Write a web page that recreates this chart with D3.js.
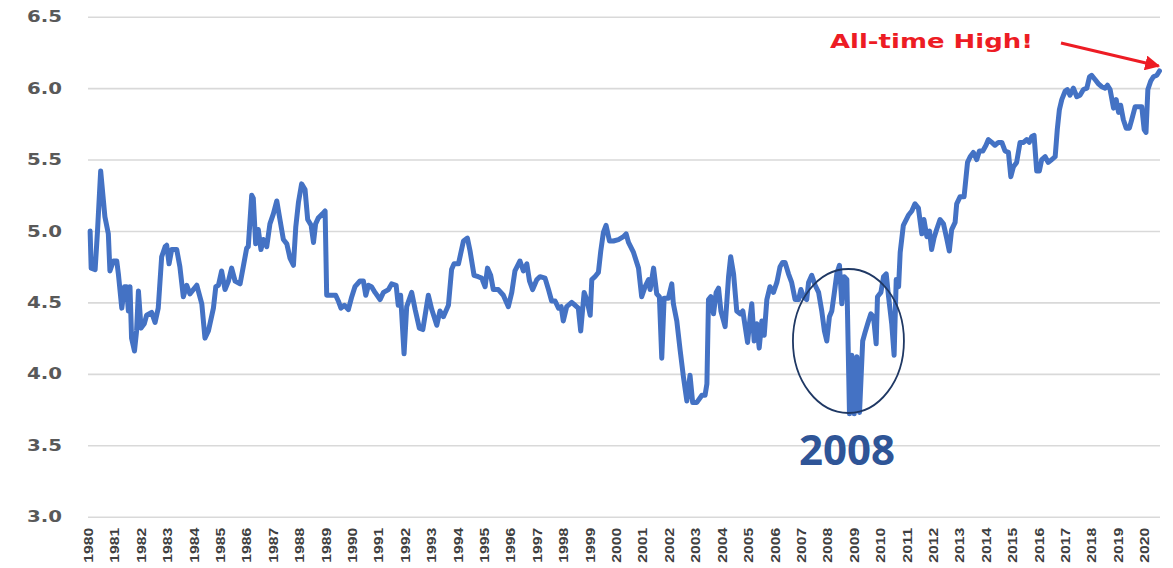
<!DOCTYPE html>
<html>
<head>
<meta charset="utf-8">
<script src="https://d3js.org/d3.v7.min.js"></script>
<style>
  html, body { margin: 0; padding: 0; background: #ffffff; }
  svg { display: block; }
</style>
</head>
<body>
<svg id="chart" width="1173" height="568"></svg>
<script>
// Offsets are years since Jan 1980 (decimal).
const off1980s = [0.08,0.12,0.27,0.36,0.48,0.64,0.77,0.83,0.96,1.09,1.15,1.28,1.38,1.46,1.53,1.59,1.65,1.76,1.84,1.91,2.01,2.13,2.22,2.41,2.54,2.66,2.79,2.92,2.98,3.07,3.17,3.36,3.48,3.61,3.74,3.86,4.12,4.31,4.43,4.56,4.75,4.84,4.94,5.06,5.19,5.32,5.44,5.57,5.76,5.88,6.01,6.07,6.20,6.26,6.35,6.45,6.55,6.64,6.77,6.89,7.02,7.15,7.27,7.40,7.53,7.65,7.78,7.87,7.97,8.09,8.22,8.32,8.45,8.54,8.62,8.72,8.88,8.98,9.04,9.23,9.38,9.48,9.58,9.71,9.86,9.99];
const val1980s = [5.00,4.74,4.73,5.00,5.42,5.10,4.98,4.72,4.79,4.79,4.70,4.46,4.61,4.61,4.44,4.61,4.25,4.16,4.30,4.58,4.32,4.35,4.41,4.43,4.36,4.46,4.82,4.89,4.90,4.77,4.87,4.87,4.75,4.54,4.62,4.56,4.62,4.49,4.25,4.30,4.46,4.61,4.62,4.72,4.59,4.65,4.74,4.65,4.63,4.75,4.88,4.89,5.25,5.23,4.91,5.01,4.87,4.94,4.89,5.05,5.12,5.21,5.08,4.94,4.91,4.81,4.76,5.03,5.20,5.33,5.29,5.08,5.04,4.92,5.05,5.09,5.12,5.14,4.55,4.55,4.55,4.51,4.46,4.48,4.45,4.54];

const off1990s = [10.11,10.30,10.43,10.52,10.62,10.74,10.87,11.06,11.19,11.38,11.50,11.67,11.75,11.84,11.97,12.07,12.26,12.39,12.55,12.68,12.89,13.02,13.21,13.33,13.46,13.65,13.77,13.86,14.03,14.22,14.37,14.47,14.62,14.78,14.91,15.04,15.13,15.25,15.35,15.54,15.73,15.92,16.05,16.17,16.36,16.49,16.62,16.72,16.84,17.00,17.12,17.31,17.44,17.56,17.69,17.82,17.92,18.00,18.13,18.32,18.45,18.57,18.66,18.79,18.89,19.02,19.08,19.20,19.33,19.42,19.52,19.62,19.75,19.90];
const val1990s = [4.61,4.65,4.65,4.55,4.62,4.61,4.57,4.52,4.57,4.59,4.63,4.62,4.48,4.55,4.14,4.47,4.57,4.45,4.32,4.31,4.55,4.45,4.34,4.44,4.40,4.48,4.73,4.77,4.77,4.93,4.95,4.86,4.69,4.68,4.67,4.61,4.74,4.69,4.59,4.59,4.55,4.47,4.57,4.72,4.79,4.72,4.77,4.65,4.59,4.66,4.68,4.67,4.59,4.51,4.51,4.46,4.47,4.37,4.47,4.50,4.48,4.46,4.30,4.57,4.52,4.41,4.66,4.68,4.71,4.86,4.99,5.04,4.93,4.93];

const off2000s = [20.09,20.28,20.38,20.47,20.66,20.85,20.97,21.10,21.23,21.29,21.42,21.54,21.64,21.73,21.82,21.98,22.11,22.17,22.30,22.43,22.55,22.68,22.80,22.90,23.06,23.25,23.37,23.44,23.50,23.59,23.69,23.79,23.88,23.97,24.13,24.26,24.34,24.45,24.57,24.70,24.80,24.89,24.98,25.08,25.14,25.23,25.33,25.42,25.52,25.61,25.71,25.83,25.96,26.09,26.21,26.31,26.40,26.53,26.65,26.78,26.91,27.00,27.10,27.22,27.29,27.41,27.54,27.67,27.79,27.89,27.98,28.08,28.17,28.26,28.36,28.46,28.55,28.64,28.74,28.84,28.93,29.02,29.12,29.22,29.34,29.43,29.56,29.65,29.75,29.85,29.90];
const val2000s = [4.94,4.96,4.98,4.92,4.85,4.74,4.54,4.61,4.66,4.59,4.74,4.56,4.54,4.11,4.53,4.53,4.63,4.49,4.37,4.16,3.98,3.81,3.99,3.80,3.80,3.85,3.85,3.93,4.52,4.54,4.42,4.57,4.60,4.44,4.33,4.68,4.82,4.70,4.44,4.42,4.44,4.33,4.22,4.40,4.49,4.23,4.35,4.18,4.37,4.27,4.52,4.61,4.57,4.64,4.75,4.78,4.78,4.70,4.64,4.52,4.52,4.59,4.54,4.52,4.64,4.69,4.62,4.57,4.44,4.30,4.23,4.40,4.44,4.56,4.70,4.76,4.49,4.68,4.66,3.72,4.13,3.72,4.12,3.73,4.23,4.29,4.37,4.42,4.40,4.21,4.54];

const off2010s = [30.03,30.13,30.23,30.32,30.44,30.53,30.61,30.70,30.76,30.88,31.07,31.20,31.32,31.45,31.58,31.66,31.77,31.87,31.95,32.04,32.14,32.27,32.40,32.52,32.62,32.71,32.84,32.90,33.03,33.18,33.31,33.41,33.53,33.66,33.76,33.89,34.01,34.10,34.23,34.35,34.48,34.61,34.73,34.86,34.95,35.05,35.17,35.30,35.43,35.55,35.65,35.74,35.83,35.93,36.03,36.12,36.25,36.37,36.50,36.63,36.71,36.79,36.88,37.01,37.09,37.19,37.32,37.45,37.57,37.70,37.83,37.93,38.01,38.14,38.27,38.39,38.52,38.61,38.71,38.84,38.94,39.03,39.11,39.21,39.32,39.44,39.53,39.66,39.79,39.91];
const val2010s = [4.57,4.68,4.70,4.54,4.35,4.13,4.66,4.61,4.85,5.04,5.11,5.14,5.19,5.16,4.98,5.08,4.96,5.00,4.87,4.95,5.01,5.08,5.05,4.95,4.86,5.01,5.06,5.19,5.24,5.24,5.48,5.52,5.55,5.50,5.56,5.56,5.60,5.64,5.62,5.60,5.62,5.62,5.56,5.55,5.38,5.45,5.48,5.62,5.62,5.64,5.62,5.66,5.67,5.42,5.42,5.50,5.52,5.48,5.50,5.52,5.71,5.85,5.92,5.98,5.99,5.95,6.00,5.94,5.95,5.99,6.00,6.08,6.09,6.06,6.03,6.01,6.00,6.02,5.99,5.86,5.92,5.83,5.88,5.78,5.72,5.72,5.78,5.87,5.87,5.87];

const off2020s = [40.00,40.07,40.14,40.25,40.35,40.48,40.58];
const val2020s = [5.71,5.69,5.99,6.05,6.08,6.09,6.12];

const yearLabels = d3.range(1980, 2021);
const yTicks = [3.0, 3.5, 4.0, 4.5, 5.0, 5.5, 6.0, 6.5];
const startYear = 1980;

const offsets = [].concat(off1980s, off1990s, off2000s, off2010s, off2020s);
const values = [].concat(val1980s, val1990s, val2000s, val2010s, val2020s);
const data = offsets.map((o, i) => ({ t: startYear + o, v: values[i] }));

const svg = d3.select("#chart");
const x = d3.scaleLinear().domain([1980, 2020.6]).range([88, 1160]);
const y = d3.scaleLinear().domain([3, 6.5]).range([516.7, 16.7]);

// Y axis with gridlines
const yAxis = svg.append("g")
  .attr("transform", "translate(88,0)")
  .call(d3.axisLeft(y).tickValues(yTicks).tickFormat(d3.format(".1f")).tickSize(-1072).tickPadding(26));
yAxis.select(".domain").remove();
yAxis.selectAll(".tick line").attr("stroke", "#d9d9d9").attr("stroke-width", 1.6);
yAxis.selectAll(".tick text")
  .attr("fill", "#595959")
  .attr("font-family", "'DejaVu Sans', Verdana, sans-serif")
  .attr("font-weight", "bold")
  .attr("font-size", 16)
  .attr("textLength", 35)
  .attr("lengthAdjust", "spacingAndGlyphs");

// X axis: positions from the scale, labels drawn rotated
const xAxis = svg.append("g")
  .attr("transform", "translate(0,516.7)")
  .call(d3.axisBottom(x).tickValues(yearLabels).tickFormat("").tickSize(0));
xAxis.select(".domain").remove();
xAxis.selectAll(".tick text").remove();
xAxis.selectAll(".tick")
  .append("text")
  .attr("transform", "translate(0,11) rotate(-90)")
  .attr("x", 0).attr("y", 0)
  .attr("dy", "0.36em")
  .attr("text-anchor", "end")
  .attr("fill", "#404040")
  .attr("font-family", "'Liberation Sans Narrow', 'Liberation Sans', Arial, sans-serif")
  .attr("font-weight", "bold")
  .attr("font-size", 12.5)
  .attr("textLength", 35)
  .attr("lengthAdjust", "spacingAndGlyphs")
  .text(d => String(d));

// Line
const line = d3.line().x(d => x(d.t)).y(d => y(d.v));
svg.append("path")
  .datum(data)
  .attr("d", line)
  .attr("fill", "none")
  .attr("stroke", "#4472c4")
  .attr("stroke-width", 5)
  .attr("stroke-linejoin", "round")
  .attr("stroke-linecap", "round");

// 2008 ellipse annotation
svg.append("ellipse")
  .attr("cx", x(2008.8)).attr("cy", y(4.23))
  .attr("rx", 55.5).attr("ry", 72)
  .attr("fill", "none")
  .attr("stroke", "#1f3864")
  .attr("stroke-width", 1.8);

svg.append("text")
  .attr("x", 847).attr("y", 465)
  .attr("text-anchor", "middle")
  .attr("font-family", "'Open Sans', sans-serif")
  .attr("font-weight", "bold")
  .attr("font-size", 42)
  .attr("fill", "#2f5597")
  .text("2008");

// All-time high annotation
const defs = svg.append("defs");
defs.append("marker")
  .attr("id", "arrow")
  .attr("viewBox", "0 0 10 10")
  .attr("refX", 9).attr("refY", 5)
  .attr("markerWidth", 5).attr("markerHeight", 5)
  .attr("orient", "auto")
  .append("path").attr("d", "M0,0 L10,5 L0,10 Z").attr("fill", "#ed1c24");

svg.append("text")
  .attr("x", 830).attr("y", 48)
  .attr("font-family", "'DejaVu Sans', Verdana, sans-serif")
  .attr("font-weight", "bold")
  .attr("font-size", 20)
  .attr("fill", "#ed1c24")
  .attr("textLength", 203)
  .attr("lengthAdjust", "spacingAndGlyphs")
  .text("All-time High!");

svg.append("line")
  .attr("x1", 1061).attr("y1", 43)
  .attr("x2", x(2020.55)).attr("y2", 66)
  .attr("stroke", "#ed1c24")
  .attr("stroke-width", 3)
  .attr("marker-end", "url(#arrow)");
</script>
</body>
</html>
